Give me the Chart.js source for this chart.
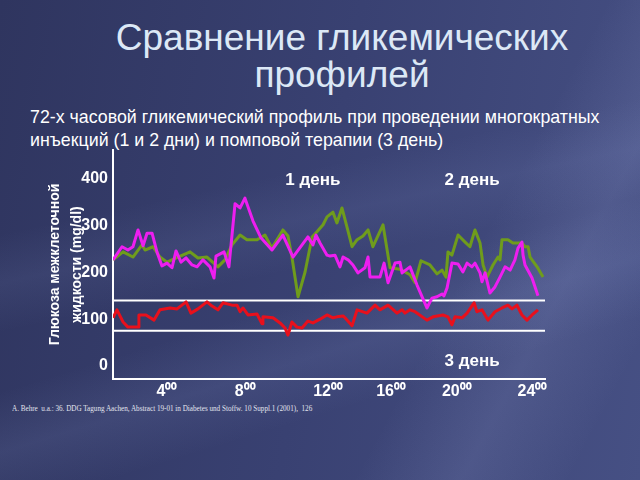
<!DOCTYPE html>
<html>
<head>
<meta charset="utf-8">
<script src="https://cdn.jsdelivr.net/npm/chart.js@4.4.1/dist/chart.umd.min.js"></script>
<style>
  html, body { margin: 0; padding: 0; }
  body {
    width: 640px; height: 480px; overflow: hidden; position: relative;
    font-family: "Liberation Sans", Arial, sans-serif;
    background:
      linear-gradient(168deg, rgba(0,0,0,0) 38%, rgba(140,155,210,0.10) 46%, rgba(0,0,0,0) 54%),
      linear-gradient(163deg, rgba(0,0,0,0) 58%, rgba(140,155,210,0.13) 67%, rgba(0,0,0,0) 76%),
      linear-gradient(118deg, rgba(0,0,0,0) 68%, rgba(165,175,225,0.14) 80%, rgba(0,0,0,0) 92%),
      linear-gradient(100deg, #2f355f 0%, #394172 50%, #465084 100%);
  }
  #title { position: absolute; left: 0; top: 19px; width: 684px; text-align: center;
           color: #dce8f6; font-size: 37px; line-height: 37px; }
  #subtitle { position: absolute; left: 30px; top: 106px; color: #fff;
              font-size: 17.8px; line-height: 23px; }
  #source { position: absolute; left: 12px; top: 403px; color: #e2e4ee; white-space: nowrap;
            font-family: "Liberation Serif", "Times New Roman", serif; font-size: 8.5px;
            transform: scaleX(0.84); transform-origin: 0 0; }
  canvas { position: absolute; left: 0; top: 0; }
</style>
</head>
<body>
<div id="title">Сравнение гликемических<br>профилей</div>
<div id="subtitle">72-х часовой гликемический профиль при проведении многократных<br>инъекций (1 и 2 дни) и помповой терапии (3 день)</div>
<div id="source">A. Behre&nbsp; u.a.: 36. DDG Tagung Aachen, Abstract 19-01 in Diabetes und Stoffw. 10 Suppl.1 (2001),&nbsp; 126</div>
<canvas id="chart" width="640" height="480"></canvas>
<script>
// day 1 (green), day 2 (magenta), day 3 pump (red) — hours vs mg/dl
const hoursDay1 = [0,0.56,1.11,1.61,1.78,2.22,2.61,3.0,3.61,4.28,4.72,5.22,5.83,6.22,6.61,7.06,7.44,8.0,8.44,8.83,9.44,9.72,9.94,10.28,10.67,11.06,11.33,11.67,11.89,12.22,12.44,12.72,13.0,13.28,13.56,13.89,14.17,14.44,15.0,15.39,15.94,16.5,16.78,17.11,17.61,18.0,18.28,18.5,18.61,18.83,19.17,19.56,19.83,20.11,20.39,20.56,20.78,21.11,21.39,21.5,21.61,21.94,22.22,22.72,22.89,23.06,23.17,23.56,23.89];
const glucoseDay1 = [227,244,233,259,248,255,233,222,233,244,231,233,212,227,259,280,270,270,280,252,291,278,233,148,201,276,287,302,319,329,306,338,297,255,270,278,291,255,302,210,207,195,178,225,216,197,205,190,244,237,280,265,255,291,263,216,190,216,233,227,270,270,263,263,255,255,233,212,190];

const hoursDay2 = [0,0.5,0.83,1.11,1.39,1.67,1.89,2.17,2.44,2.72,3.0,3.28,3.5,3.78,4.06,4.39,4.67,5.0,5.39,5.61,5.72,6.17,6.44,6.78,7.06,7.33,7.78,8.22,8.83,9.44,10.0,10.83,11.11,11.28,11.5,11.89,12.06,12.33,12.61,12.78,13.06,13.33,13.61,14.0,14.17,14.28,14.83,15.06,15.28,15.67,15.94,16.06,16.5,16.89,17.44,17.72,18.0,18.28,18.39,18.56,18.83,19.17,19.44,19.67,19.94,20.11,20.39,20.5,20.67,20.94,21.22,21.5,21.78,22.06,22.33,22.5,22.72,22.78,22.89,23.28,23.61];
const glucoseDay2 = [227,255,248,255,291,257,284,284,244,214,220,210,246,222,231,216,212,227,212,188,235,244,212,347,338,359,310,274,248,280,233,276,259,280,263,237,235,237,212,233,227,216,199,210,233,190,190,220,178,220,222,199,212,173,124,145,148,154,150,167,220,218,201,220,212,220,199,180,199,156,169,190,212,205,227,252,265,237,216,188,150];

const hoursDay3 = [0,0.22,0.56,0.83,1.39,1.44,1.83,2.28,2.61,3.17,3.56,4.06,4.33,4.72,5.22,5.5,5.83,6.11,6.61,6.89,7.06,7.22,7.5,8.0,8.28,8.33,8.89,9.28,9.56,9.72,9.94,10.22,10.5,10.83,11.11,11.5,11.89,12.22,12.44,12.78,12.89,13.28,13.56,14.11,14.56,14.83,15.28,15.78,16.06,16.22,16.5,16.78,17.44,17.78,18.33,18.61,18.83,19.0,19.39,19.67,20.06,20.22,20.5,20.83,21.22,21.61,21.94,22.17,22.44,22.72,23.0,23.28,23.61];
const glucoseDay3 = [103,120,94,83,83,109,109,98,120,124,122,137,113,122,137,128,120,135,130,130,116,124,109,111,90,105,103,92,81,66,94,83,81,96,92,100,109,103,105,107,103,86,120,113,130,120,130,113,120,113,120,116,98,105,109,105,88,105,103,113,135,116,120,98,116,124,130,122,130,109,98,109,120];

// target range limits (white lines)
const targetRange = [140, 75];

const yTickValues = [0, 100, 200, 300, 400];
const xTickValues = [3.0, 7.35, 11.95, 15.45, 19.1, 23.3];
const xTickLabels = ['4⁰⁰', '8⁰⁰', '12⁰⁰', '16⁰⁰', '20⁰⁰', '24⁰⁰'];

const dayLabels = ['1 день', '2 день', '3 день'];
const dayLabelHours = [11.1, 19.95, 19.95];
const dayLabelLevels = [398, 398, 9];

const FONT = '"Liberation Sans", Arial, sans-serif';
const toPoints = (xs, ys) => xs.map((x, i) => ({ x, y: ys[i] }));

const dayLabelPlugin = {
  id: 'dayLabels',
  afterDatasetsDraw(chart) {
    const { ctx, scales: { x, y } } = chart;
    ctx.save();
    ctx.font = 'bold 17px ' + FONT;
    ctx.fillStyle = '#ffffff';
    ctx.textAlign = 'center';
    ctx.textBaseline = 'middle';
    dayLabels.forEach((t, i) => ctx.fillText(t, x.getPixelForValue(dayLabelHours[i]), y.getPixelForValue(dayLabelLevels[i])));
    ctx.restore();
  }
};

const lineStyle = { pointRadius: 0, borderWidth: 3, tension: 0, borderJoinStyle: 'round', fill: false };

new Chart(document.getElementById('chart'), {
  type: 'line',
  data: {
    datasets: [
      { ...lineStyle, label: 'День 2', data: toPoints(hoursDay2, glucoseDay2), borderColor: '#ee1ef0' },
      { ...lineStyle, label: 'День 1', data: toPoints(hoursDay1, glucoseDay1), borderColor: '#6f9c1c' },
      { ...lineStyle, label: 'День 3', data: toPoints(hoursDay3, glucoseDay3), borderColor: '#e8101c' },
      ...targetRange.map(v => ({ ...lineStyle, label: 'target ' + v, data: [{ x: 0, y: v }, { x: 24, y: v }], borderColor: '#ffffff', borderWidth: 2 }))
    ]
  },
  options: {
    responsive: false,
    animation: false,
    layout: { padding: { left: 40, top: 150, right: 95, bottom: 71 } },
    plugins: { legend: { display: false }, tooltip: { enabled: false } },
    scales: {
      x: {
        type: 'linear', min: 0, max: 24,
        grid: { display: false, drawTicks: false },
        border: { color: '#ffffff', width: 2 },
        ticks: {
          color: '#ffffff', padding: 3, maxRotation: 0, autoSkip: false,
          font: { family: FONT, size: 16, weight: 'bold' },
          callback: (v, i) => xTickLabels[i]
        },
        afterBuildTicks: s => { s.ticks = xTickValues.map(v => ({ value: v })); },
        afterFit: s => { s.height = 30; }
      },
      y: {
        min: -28, max: 462,
        grid: { display: false, drawTicks: false },
        border: { color: '#ffffff', width: 2 },
        ticks: { color: '#ffffff', padding: 5, font: { family: FONT, size: 16, weight: 'bold' } },
        afterBuildTicks: s => { s.ticks = yTickValues.map(v => ({ value: v })); },
        afterFit: s => { s.width = 73; },
        title: {
          display: true,
          text: ['Глюкоза межклеточной', 'жидкости (mg/dl)'],
          color: '#ffffff',
          font: { family: FONT, size: 14, weight: 'bold', lineHeight: 1.57 },
          padding: { top: 4, bottom: 0 }
        }
      }
    }
  },
  plugins: [dayLabelPlugin]
});
</script>
</body>
</html>
